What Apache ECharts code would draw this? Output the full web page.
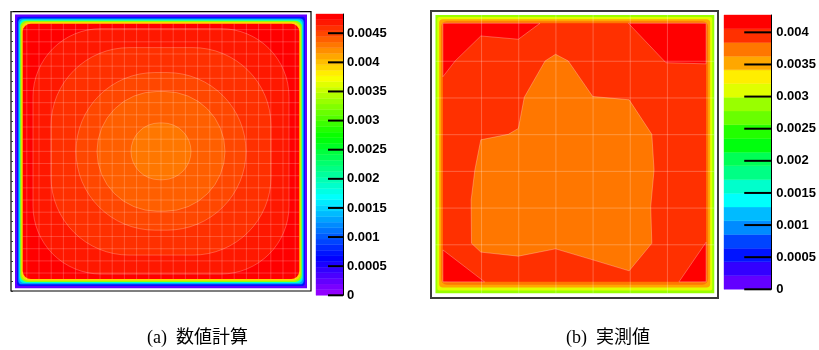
<!DOCTYPE html>
<html><head><meta charset="utf-8">
<script src="https://cdn.jsdelivr.net/npm/echarts@6/dist/echarts.min.js"></script>
<style>html,body{margin:0;padding:0;background:#fff}#c{width:819px;height:350px}</style>
</head><body><div id="c"></div><script>
// ================= DATA =================
// (a) numerical calculation — colour scale
const leftZMax = 0.00483;
const leftNLevels = 50;
const leftTicks = [0, 0.0005, 0.001, 0.0015, 0.002, 0.0025, 0.003, 0.0035, 0.004, 0.0045];
const leftTickLabels = ['0', '0.0005', '0.001', '0.0015', '0.002', '0.0025', '0.003', '0.0035', '0.004', '0.0045'];
// (a) contour regions, outermost first (mm from plate centre)
const leftContourHalfW = [138.3, 128, 110, 85, 64, 30];
const leftContourHalfH = [128, 123, 104, 79, 60, 28.5];
const leftContourRound = [8, 68, 78, 79, 60, 30];
const leftContourValue = [0.00478, 0.00468, 0.00459, 0.00449, 0.00439, 0.0043];
// (a) boundary ramp (outer plate edge -> inner red region)
const leftEdgeHalfW = 146, leftEdgeHalfH = 137.3;
const leftEdgeFrac = [0, 0.26, 0.43, 0.56, 0.69, 0.82];
const leftEdgeValue = [0.0002, 0.0007, 0.0013, 0.0019, 0.0033, 0.0039];

// (b) measurement — colour scale
const rightZMax = 0.00427;
const rightNLevels = 20;
const rightTicks = [0, 0.0005, 0.001, 0.0015, 0.002, 0.0025, 0.003, 0.0035, 0.004];
const rightTickLabels = ['0', '0.0005', '0.001', '0.0015', '0.002', '0.0025', '0.003', '0.0035', '0.004'];
// (b) plate edge and measurement-node area (grid units, y downward)
const rightOuter = [-0.24, 7.26, -0.26, 7.32];
const rightNodeArea = [-0.04, 7.04, -0.035, 7.01];
const rightEdgeFrac = [0, 0.25, 0.5, 0.75];
const rightEdgeValue = [0.0029, 0.0032, 0.0035, 0.0037];
const rightBaseValue = 0.0039;
// (b) contour regions
const rightRegionValue = [0.0041, 0.0041, 0.0041, 0.0041, 0.0037];
const rightRegionX = [
  [-0.04, -0.04, 0.29, 0.98, 1.99, 2.57],
  [4.95, 5.96, 7.04, 7.04],
  [-0.04, 1.08, -0.04],
  [7.04, 6.31, 7.04],
  [2.99, 3.33, 3.99, 4.97, 5.58, 5.64, 5.55, 5.58, 4.97, 3.99, 2.99, 1.99, 0.98, 0.73, 0.72, 0.82, 0.98, 1.72, 1.99, 2.15, 2.71]
];
const rightRegionY = [
  [-0.035, 1.42, 0.99, 0.31, 0.40, -0.035],
  [-0.035, 1.04, 1.07, -0.035],
  [6.14, 7.01, 7.01],
  [5.93, 7.01, 7.01],
  [0.81, 0.99, 1.96, 2.05, 2.99, 3.96, 4.96, 5.96, 6.71, 6.41, 6.11, 6.31, 6.20, 5.96, 4.78, 3.96, 3.14, 2.99, 2.83, 1.98, 0.99]
];
const rightMeshLines = [1, 2, 3, 4, 5, 6];

// ================= STYLE HELPERS =================
function hslRgb(h) {
  h = (((h % 360) + 360) % 360) / 60;
  const x = 1 - Math.abs(h % 2 - 1);
  let r, g, b;
  if (h < 1) { r = 1; g = x; b = 0; } else if (h < 2) { r = x; g = 1; b = 0; }
  else if (h < 3) { r = 0; g = 1; b = x; } else if (h < 4) { r = 0; g = x; b = 1; }
  else if (h < 5) { r = x; g = 0; b = 1; } else { r = 1; g = 0; b = x; }
  return 'rgb(' + Math.round(r * 255) + ',' + Math.round(g * 255) + ',' + Math.round(b * 255) + ')';
}
function paletteColor(p) { return p >= 49 ? 'rgb(255,0,0)' : hslRgb(280 - (p + 1) * 5.6); }
function bandColor(i, n) { return paletteColor(Math.floor((i + 0.99) * 50 / n)); }
function valueColor(v, zMax, n) {
  let i = Math.floor(v / zMax * n);
  i = Math.max(0, Math.min(n - 1, i));
  return bandColor(i, n);
}
const leftCenter = [1, 0];
const meshLine = 'rgba(255,255,255,0.2)';

function colorbarSeries(xi, yi, zMax, n) {
  const data = [];
  for (let i = 0; i < n; i++) data.push([0.5, (i + 0.5) * zMax / n]);
  return {
    type: 'custom', xAxisIndex: xi, yAxisIndex: yi, data: data, z: 2,
    renderItem: function (params, api) {
      const i = params.dataIndex;
      const a = api.coord([0, i * zMax / n]);
      const b = api.coord([1, (i + 1) * zMax / n]);
      const c = bandColor(i, n);
      return { type: 'rect', shape: { x: a[0], y: b[1], width: b[0] - a[0], height: a[1] - b[1] },
        style: { fill: c, stroke: c, lineWidth: 0.4 } };
    }
  };
}
function colorbarTickSeries(xi, yi, ticks, len) {
  return {
    type: 'custom', xAxisIndex: xi, yAxisIndex: yi, z: 4, silent: true,
    data: ticks.map(function (v) { return [1, v]; }),
    renderItem: function (params, api) {
      const p = api.coord([1, ticks[params.dataIndex]]);
      return { type: 'line', shape: { x1: p[0] - len, y1: p[1], x2: p[0], y2: p[1] }, style: { stroke: '#000', lineWidth: 2 } };
    }
  };
}
function colorbarAxis(gi, zMax, ticks, labels, margin) {
  return {
    gridIndex: gi, type: 'value', position: 'right', min: 0, max: zMax, z: 5,
    axisLine: { show: true, onZero: false, lineStyle: { color: '#000', width: 1 } },
    axisTick: { show: false },
    axisLabel: { show: true, customValues: ticks, margin: margin, color: '#000', fontSize: 13, fontWeight: 'bold',
      fontFamily: 'Liberation Sans, Arial, sans-serif',
      formatter: function (v) { const k = ticks.indexOf(v); return k >= 0 ? labels[k] : ''; } },
    splitLine: { show: false }
  };
}

// left mesh (calculation cells) lines
const leftMeshX = [], leftMeshY = [];
for (let k = -11; k <= 11; k++) leftMeshX.push(leftCenter[0] + k * 12.2);
for (let k = -10; k <= 10; k++) leftMeshY.push(leftCenter[1] + k * 12.2);

const option = {
  animation: false,
  backgroundColor: '#fff',
  grid: [
    { left: 11, top: 11.7, width: 300, height: 279.3, show: true, borderColor: '#000', borderWidth: 1.2, backgroundColor: 'transparent' },
    { left: 316, top: 14, width: 27, height: 281.3 },
    { left: 431, top: 11, width: 287, height: 287, show: true, borderColor: '#3a3a3a', borderWidth: 2, backgroundColor: 'transparent' },
    { left: 724, top: 15, width: 50, height: 274.3 }
  ],
  xAxis: [
    { gridIndex: 0, type: 'value', min: -149, max: 151, show: false },
    { gridIndex: 1, type: 'value', min: 0, max: 1, show: false },
    { gridIndex: 2, type: 'value', min: -0.36, max: 7.36, show: false },
    { gridIndex: 3, type: 'value', min: 0, max: 1, show: false }
  ],
  yAxis: [
    { gridIndex: 0, type: 'value', min: -140, max: 140, interval: 10, z: 5,
      axisLine: { show: false, onZero: false }, axisLabel: { show: false }, splitLine: { show: false },
      axisTick: { show: true, inside: true, length: 2, lineStyle: { color: '#333', width: 1 } } },
    colorbarAxis(1, leftZMax, leftTicks, leftTickLabels, 4),
    { gridIndex: 2, type: 'value', min: -0.37, max: 7.45, inverse: true, show: false },
    colorbarAxis(3, rightZMax, rightTicks, rightTickLabels, 5)
  ],
  series: [
    // ---- (a) boundary ramp
    {
      type: 'custom', xAxisIndex: 0, yAxisIndex: 0, z: 1,
      data: leftEdgeValue.map(function (v) { return [0, v]; }),
      renderItem: function (params, api) {
        const k = params.dataIndex, t = leftEdgeFrac[k];
        const hw = leftEdgeHalfW + (leftContourHalfW[0] - leftEdgeHalfW) * t;
        const hh = leftEdgeHalfH + (leftContourHalfH[0] - leftEdgeHalfH) * t;
        const p = api.coord([leftCenter[0] - hw, leftCenter[1] + hh]);
        const s = api.size([2 * hw, 2 * hh]);
        const r = api.size([9 * t, 0])[0];
        return { type: 'rect', shape: { x: p[0], y: p[1], width: s[0], height: s[1], r: r },
          style: { fill: valueColor(leftEdgeValue[k], leftZMax, leftNLevels) } };
      }
    },
    // ---- (a) contour regions
    {
      type: 'custom', xAxisIndex: 0, yAxisIndex: 0, z: 2,
      data: leftContourValue.map(function (v) { return [0, v]; }),
      renderItem: function (params, api) {
        const k = params.dataIndex;
        const hw = leftContourHalfW[k], hh = leftContourHalfH[k];
        const p = api.coord([leftCenter[0] - hw, leftCenter[1] + hh]);
        const s = api.size([2 * hw, 2 * hh]);
        const r = api.size([leftContourRound[k], 0])[0];
        return { type: 'rect', shape: { x: p[0], y: p[1], width: s[0], height: s[1], r: r },
          style: { fill: valueColor(leftContourValue[k], leftZMax, leftNLevels),
            stroke: k === 0 ? null : 'rgba(255,255,255,0.3)', lineWidth: 0.8 } };
      }
    },
    // ---- (a) mesh lines
    {
      type: 'custom', xAxisIndex: 0, yAxisIndex: 0, z: 3, silent: true,
      data: leftMeshX.map(function (v) { return [v, 0]; }).concat(leftMeshY.map(function (v) { return [0, v]; })),
      renderItem: function (params, api) {
        const i = params.dataIndex;
        const hw = leftContourHalfW[0], hh = leftContourHalfH[0];
        let a, b;
        if (i < leftMeshX.length) {
          a = api.coord([leftMeshX[i], leftCenter[1] + hh]); b = api.coord([leftMeshX[i], leftCenter[1] - hh]);
        } else {
          const y = leftMeshY[i - leftMeshX.length];
          a = api.coord([leftCenter[0] - hw, y]); b = api.coord([leftCenter[0] + hw, y]);
        }
        return { type: 'line', shape: { x1: a[0], y1: a[1], x2: b[0], y2: b[1] }, style: { stroke: meshLine, lineWidth: 1 } };
      }
    },
    colorbarSeries(1, 1, leftZMax, leftNLevels),
    colorbarTickSeries(1, 1, leftTicks, 15),
    // ---- (b) boundary ramp + base
    {
      type: 'custom', xAxisIndex: 2, yAxisIndex: 2, z: 1,
      data: rightEdgeValue.concat([rightBaseValue]).map(function (v) { return [0, v]; }),
      renderItem: function (params, api) {
        const k = params.dataIndex;
        const isBase = k >= rightEdgeFrac.length;
        const t = isBase ? 1 : rightEdgeFrac[k];
        const v = isBase ? rightBaseValue : rightEdgeValue[k];
        const x0 = rightOuter[0] + (rightNodeArea[0] - rightOuter[0]) * t;
        const x1 = rightOuter[1] + (rightNodeArea[1] - rightOuter[1]) * t;
        const y0 = rightOuter[2] + (rightNodeArea[2] - rightOuter[2]) * t;
        const y1 = rightOuter[3] + (rightNodeArea[3] - rightOuter[3]) * t;
        const a = api.coord([x0, y0]), b = api.coord([x1, y1]);
        const r = api.size([0.2 * t, 0])[0];
        return { type: 'rect', shape: { x: a[0], y: a[1], width: b[0] - a[0], height: b[1] - a[1], r: r },
          style: { fill: valueColor(v, rightZMax, rightNLevels) } };
      }
    },
    // ---- (b) contour regions
    {
      type: 'custom', xAxisIndex: 2, yAxisIndex: 2, z: 2,
      data: rightRegionValue.map(function (v) { return [0, v]; }),
      renderItem: function (params, api) {
        const k = params.dataIndex;
        const pts = rightRegionX[k].map(function (x, j) { return api.coord([x, rightRegionY[k][j]]); });
        return { type: 'polygon', shape: { points: pts },
          style: { fill: valueColor(rightRegionValue[k], rightZMax, rightNLevels), stroke: 'rgba(255,255,255,0.35)', lineWidth: 0.8 } };
      }
    },
    // ---- (b) mesh lines
    {
      type: 'custom', xAxisIndex: 2, yAxisIndex: 2, z: 3, silent: true,
      data: rightMeshLines.map(function (v) { return [v, 0]; }).concat(rightMeshLines.map(function (v) { return [0, v]; })),
      renderItem: function (params, api) {
        const i = params.dataIndex, n = rightMeshLines.length;
        let a, b;
        if (i < n) { a = api.coord([rightMeshLines[i], rightOuter[2]]); b = api.coord([rightMeshLines[i], rightOuter[3]]); }
        else { a = api.coord([rightOuter[0], rightMeshLines[i - n]]); b = api.coord([rightOuter[1], rightMeshLines[i - n]]); }
        return { type: 'line', shape: { x1: a[0], y1: a[1], x2: b[0], y2: b[1] }, style: { stroke: 'rgba(255,255,255,0.25)', lineWidth: 1 } };
      }
    },
    colorbarSeries(3, 3, rightZMax, rightNLevels),
    colorbarTickSeries(3, 3, rightTicks, 27)
  ],
  graphic: [
    { type: 'text', left: 147, top: 329, style: { text: '(a)  数値計算', fontSize: 18, fill: '#000',
      fontFamily: '"Liberation Serif", "Noto Sans CJK JP", serif' } },
    { type: 'text', left: 566, top: 329, style: { text: '(b)  実測値', fontSize: 18, fill: '#000',
      fontFamily: '"Liberation Serif", "Noto Sans CJK JP", serif' } }
  ]
};
const chart = echarts.init(document.getElementById('c'));
chart.setOption(option);
</script></body></html>
